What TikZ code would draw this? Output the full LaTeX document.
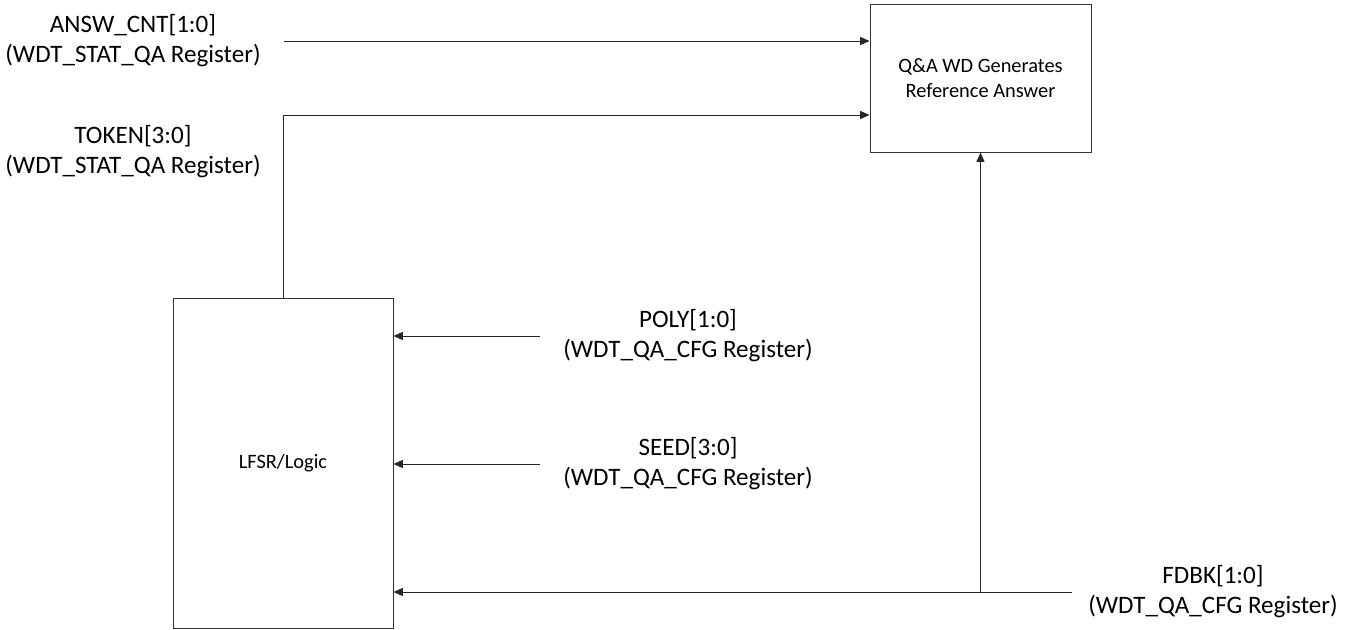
\documentclass[tikz,border=0pt]{standalone}
\usepackage{fontspec}
\setmainfont{Carlito}
\usetikzlibrary{positioning,arrows.meta}

\begin{document}
\begin{tikzpicture}[x=0.75pt,y=-0.75pt,
  blockbox/.style={draw=black!80,line width=0.75pt,fill=white,align=center,font=\fontsize{15.3}{19}\selectfont},
  reglabel/.style={align=center,font=\fontsize{18.8}{22.5}\selectfont},
  sig/.style={draw=black!85,line width=0.75pt,-{Triangle[length=7pt,width=6pt]}}]
\useasboundingbox (0,0) rectangle (1356,629);
% blocks
\node[blockbox,minimum width=165.75pt,minimum height=111pt] (qa) at (980.5,78) {Q\&A WD Generates\\Reference Answer};
\node[blockbox,minimum width=165pt,minimum height=247.5pt] (lfsr) at (283,463) {LFSR/Logic};
% register labels
\node[reglabel] (answ) at (133,41) {ANSW\_CNT[1:0]\\(WDT\_STAT\_QA Register)};
\node[reglabel] (token) at (133,152) {TOKEN[3:0]\\(WDT\_STAT\_QA Register)};
\node[reglabel] (poly) at (688,336) {POLY[1:0]\\(WDT\_QA\_CFG Register)};
\node[reglabel] (seed) at (688,464) {SEED[3:0]\\(WDT\_QA\_CFG Register)};
\node[reglabel] (fdbk) at (1213,592) {FDBK[1:0]\\(WDT\_QA\_CFG Register)};
% free line ends
\coordinate (answin) at (284,41);
\coordinate (polyin) at (540,336);
\coordinate (seedin) at (540,464);
\coordinate (fdbkin) at (1072,592);
% connections
\draw[sig] (answin) -- (qa.west |- answin);
\draw[sig] (lfsr.north) |- (qa.west |- 0,115);
\draw[sig] (polyin) -- (lfsr.east |- polyin);
\draw[sig] (seedin) -- (lfsr.east |- seedin);
\draw[sig] (fdbkin) -- (lfsr.east |- fdbkin);
\draw[sig] (qa.south |- fdbkin) -- (qa.south);
\end{tikzpicture}
\end{document}
